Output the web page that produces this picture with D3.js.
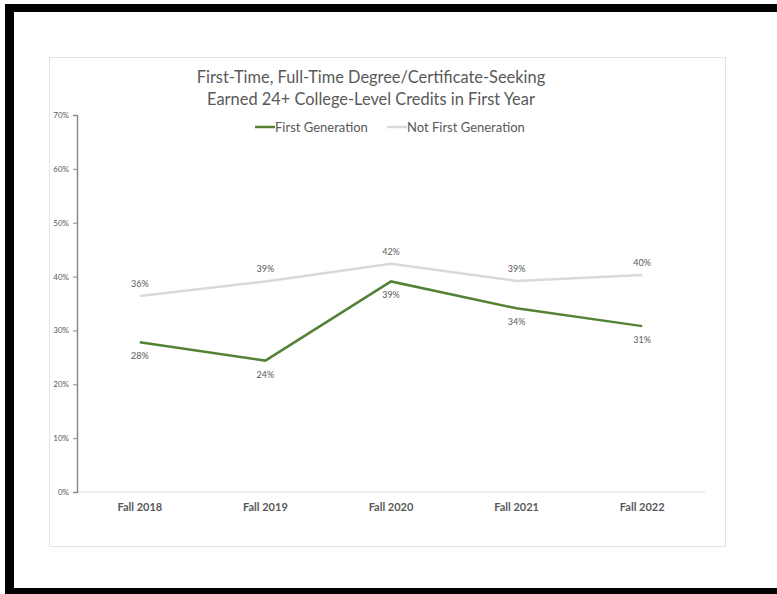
<!doctype html>
<html>
  <head>
    <meta charset="utf-8">
    <script src="https://cdn.jsdelivr.net/npm/d3@7"></script>
    <style>
      body { margin: 0; background: #fff; }
      svg { display: block; }
      text { font-family: Lato, "Open Sans", sans-serif; }
    </style>
  </head>
  <body>
    <svg width="777" height="594"></svg>

  <script>
    // data
    let terms = ["Fall 2018", "Fall 2019", "Fall 2020", "Fall 2021", "Fall 2022"]
    let firstGen = [0.278, 0.244, 0.391, 0.341, 0.308]
    let notFirstGen = [0.364, 0.391, 0.424, 0.392, 0.403]
    let yTicks = [0, 0.1, 0.2, 0.3, 0.4, 0.5, 0.6, 0.7]
    let seriesNames = ["First Generation", "Not First Generation"]

    let svg = d3.select("svg")
    let grey = "#595959"

    // black frame of the screenshot
    svg.append("rect").attr("x", 5).attr("y", 4).attr("width", 772).attr("height", 8).attr("fill", "#000")
    svg.append("rect").attr("x", 5).attr("y", 4).attr("width", 9).attr("height", 590).attr("fill", "#000")
    svg.append("rect").attr("x", 5).attr("y", 588).attr("width", 772).attr("height", 6).attr("fill", "#000")

    // chart area box
    svg.append("rect")
        .attr("x", 49.5).attr("y", 57.5)
        .attr("width", 676).attr("height", 489)
        .attr("fill", "#fff")
        .attr("stroke", "#e4e4e4")

    let x = d3.scalePoint().domain(terms).range([77, 705]).padding(0.5)
    let y = d3.scaleLinear().domain([0, 0.7]).range([492, 115])

    // x axis line
    svg.append("line")
        .attr("x1", 77).attr("x2", 705)
        .attr("y1", y(0)).attr("y2", y(0))
        .attr("stroke", "#d9d9d9").attr("stroke-width", 1.2)

    // y axis
    let yAxis = svg.append("g")
        .attr("transform", "translate(77,0)")
        .call(d3.axisLeft(y).tickValues(yTicks).tickFormat(d3.format(".0%")).tickSize(4).tickPadding(4))
    yAxis.select(".domain").attr("stroke", "#8c8c8c").attr("stroke-width", 1.5)
    yAxis.selectAll(".tick line").attr("stroke", "#8c8c8c")
    yAxis.selectAll("text").attr("fill", grey).style("font-size", "8px")

    // x labels
    svg.append("g").selectAll("text")
      .data(terms)
      .enter().append("text")
        .attr("x", d => x(d))
        .attr("y", 511)
        .attr("text-anchor", "middle")
        .attr("fill", grey)
        .style("font-size", "11px")
        .style("font-weight", "bold")
        .text(d => d)

    let line = d3.line()
        .x((d, i) => x(terms[i]))
        .y(d => y(d))

    let series = [
      { name: seriesNames[0], values: firstGen, color: "#548235", dy: 17 },
      { name: seriesNames[1], values: notFirstGen, color: "#d9d9d9", dy: -9 }
    ]

    // draw grey first so green sits on top
    for (let s of series.slice().reverse()) {
      svg.append("path")
          .datum(s.values)
          .attr("fill", "none")
          .attr("stroke", s.color)
          .attr("stroke-width", 2.5)
          .attr("d", line)

      svg.append("g").selectAll("text")
        .data(s.values)
        .enter().append("text")
          .attr("x", (d, i) => x(terms[i]))
          .attr("y", d => y(d) + s.dy)
          .attr("text-anchor", "middle")
          .attr("fill", grey)
          .style("font-size", "9px")
          .text(d => d3.format(".0%")(d))
    }

    // title
    let title = svg.append("text")
        .attr("x", 371)
        .attr("text-anchor", "middle")
        .attr("fill", grey)
        .style("font-size", "16.4px")
    title.append("tspan").attr("x", 371).attr("y", 83).text("First-Time, Full-Time Degree/Certificate-Seeking")
    title.append("tspan").attr("x", 371).attr("y", 105).text("Earned 24+ College-Level Credits in First Year")

    // legend
    let legendX = [255, 387]
    series.forEach((s, i) => {
      let g = svg.append("g").attr("transform", `translate(${legendX[i]},127)`)
      g.append("line").attr("x1", 0).attr("x2", 20).attr("stroke", s.color).attr("stroke-width", 2.5)
      g.append("text")
          .attr("x", 20).attr("y", 4.5)
          .attr("fill", grey)
          .style("font-size", "13px")
          .text(s.name)
    })
  </script>
  </body>
</html>
